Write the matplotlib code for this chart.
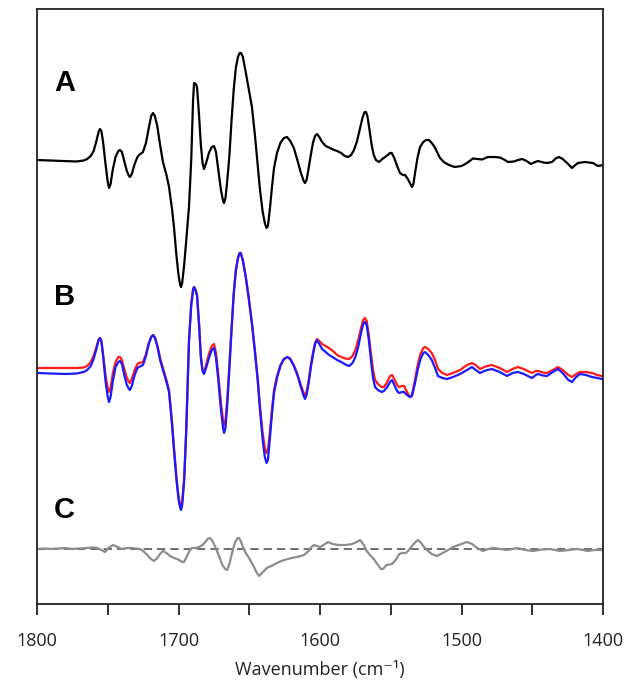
import matplotlib
matplotlib.use("Agg")
import matplotlib.pyplot as plt
from matplotlib.ticker import MultipleLocator

# ---- data (values in arbitrary absorbance-difference units) ----
wn_A = [1800, 1790, 1780, 1772, 1767, 1764.5, 1762, 1760, 1758, 1756.5, 1755.5, 1754.5, 1753.3, 1751.5,
        1750, 1749.1, 1748, 1746.5, 1744.5, 1742.5, 1741.3, 1740, 1738.5, 1736.5, 1735, 1734.3, 1733,
        1731, 1729, 1727.9, 1725.1, 1723, 1721, 1719.3, 1718, 1716.7, 1715, 1713, 1711, 1708.5, 1706.7,
        1704.5, 1703.2, 1701.5, 1700, 1698.8, 1698.2, 1697.4, 1696, 1694.5, 1692.6, 1691, 1689.7, 1689,
        1687.8, 1686.9, 1685.5, 1684.2, 1683, 1682, 1680.5, 1678.5, 1676.5, 1674.9, 1673.5, 1672, 1670,
        1668.5, 1667.8, 1666.8, 1665.5, 1664, 1662.5, 1661, 1659.5, 1658, 1656.8, 1655.8, 1654.5, 1652.5,
        1650.5, 1648.1, 1646, 1644, 1642.4, 1640.5, 1639, 1637.8, 1636.8, 1635.5, 1634, 1632.5, 1630.4,
        1628, 1625.5, 1623.3, 1621, 1618.5, 1616, 1613.5, 1611.5, 1610.6, 1609.5, 1608, 1606.5, 1605,
        1603.5, 1602.1, 1600.5, 1598.5, 1596, 1593, 1590, 1587.9, 1585, 1582.5, 1580.2, 1578, 1576, 1574,
        1572, 1570, 1568.5, 1567.5, 1566.5, 1565, 1563.5, 1562, 1560.5, 1558.3, 1556, 1553, 1550.5,
        1549.3, 1547.5, 1545.5, 1543.5, 1541.5, 1539.9, 1537.5, 1535.8, 1535, 1534, 1532.5, 1531, 1529.3,
        1527, 1525, 1523, 1521, 1519, 1517.3, 1515.2, 1512.5, 1510.2, 1507, 1504.6, 1500, 1496.1, 1491.9,
        1489, 1485.5, 1481.3, 1477, 1472.8, 1470, 1467.1, 1463, 1460, 1457.2, 1454, 1450.9, 1448, 1445.9,
        1442, 1439.6, 1436, 1433.5, 1431.1, 1428.5, 1425.4, 1421.9, 1419.5, 1417.7, 1412.7, 1407.1,
        1403.5, 1400]
val_A = [0, -0.5, -1, -1.5, -0.5, 1, 4, 9, 19, 28, 31, 29, 18, -5,
         -22, -28, -24, -10, 3, 9, 10, 8, 0, -11, -16, -17, -14,
         -4, 3, 5, 8, 17, 32, 44, 47, 44, 34, 15, -2, -15, -27,
         -50, -67, -95, -115, -125, -127, -123, -105, -80, -47, 0, 60, 77,
         76, 73, 45, 15, -3, -9, -3, 7, 13, 14, 8, -8, -30,
         -41, -43, -38, -20, 5, 40, 70, 92, 103, 107, 107, 103, 88,
         72, 53, 25, -5, -30, -52, -63, -68, -66, -50, -28, -8, 7,
         17, 22, 23, 19, 12, 0, -13, -21, -23, -20, -8, 5, 17,
         24, 26, 23, 18, 14, 12, 10, 9, 7, 4, 3, 5, 10, 18,
         30, 42, 48, 48, 44, 30, 15, 5, 0, -2, 1, 4, 7,
         7, 2, -6, -13, -15, -15, -20, -25, -27, -24, -10, 3, 13,
         18, 20, 20, 17, 13, 8, 2, -2, -4, -6, -7, -6, -3, 1.5,
         1, 0.5, 3, 3, 2.5, 0.5, -2, -1.5, 0, 1, -1, -4, -2, -1,
         -2.5, -3, -2, 1.5, 3, 1, -3, -8, -5, -3, -2, -3,
         -6, -5]

wn_B = [1800, 1790, 1780, 1772, 1767, 1764.5, 1762, 1760, 1758, 1756.5, 1755.5, 1754.5, 1753.3, 1751.5,
        1750, 1749.1, 1748, 1746.5, 1744.5, 1742.5, 1741.3, 1740, 1738.5, 1736.5, 1735, 1734.3, 1733,
        1731, 1729, 1727.9, 1725.1, 1723, 1721, 1719.3, 1718, 1716.7, 1715, 1713, 1711, 1708.5, 1706.7,
        1704.5, 1703.2, 1701.5, 1700, 1698.8, 1698.2, 1697.4, 1696, 1694.5, 1692.6, 1691, 1689.7, 1689,
        1687.8, 1686.9, 1685.5, 1684.2, 1683, 1682, 1680.5, 1678.5, 1676.5, 1674.9, 1673.5, 1672, 1670,
        1668.5, 1667.8, 1666.8, 1665.5, 1664, 1662.5, 1661, 1659.5, 1658, 1656.8, 1656, 1654.5, 1652.5,
        1650.5, 1648.1, 1646, 1644, 1642.4, 1640.5, 1639, 1637.8, 1636.8, 1635.5, 1634, 1632.5, 1630.4,
        1628, 1625.5, 1623, 1621, 1618.5, 1616, 1613.5, 1611.5, 1610.6, 1609.5, 1608, 1606.5, 1605,
        1603.5, 1602.1, 1600.5, 1598.5, 1596, 1593.6, 1590, 1587.9, 1585, 1582, 1579.4, 1577, 1575, 1573,
        1571, 1569.5, 1568.2, 1567, 1565.5, 1564, 1562.5, 1561.1, 1559, 1556.5, 1554.8, 1552.5, 1550.5,
        1549.1, 1547.5, 1545.5, 1544.2, 1542, 1540.6, 1538.5, 1536.4, 1535, 1533, 1531, 1529, 1527,
        1525.8, 1523.5, 1521, 1518.7, 1516.6, 1513.5, 1510.2, 1506, 1501, 1496.1, 1492.6, 1490, 1487,
        1483, 1478.5, 1473, 1467.8, 1464, 1460.1, 1456, 1450.2, 1447.5, 1445.9, 1442.5, 1439.6, 1435.5,
        1431.8, 1428.5, 1424.5, 1421.9, 1419, 1416.3, 1412, 1407.8, 1404, 1400.7]
val_B_red = [0, 0, 0, 0, 0.5, 2, 6, 12, 21, 28, 30, 27, 14, -8,
             -20, -24, -20, -6, 6, 11, 11, 8, 0, -10, -14, -15, -11,
             -2, 4, 5, 6, 14, 25, 31, 33, 31, 23, 10, 0, -12, -22,
             -55, -79, -108, -128, -137, -139, -134, -110, -60, 28, 65, 79, 81,
             78, 73, 45, 12, -2, -5, 3, 14, 22, 24, 15, -5, -35,
             -52, -57, -52, -30, 5, 40, 75, 98, 110, 115, 115, 108, 92,
             72, 45, 18, -10, -38, -65, -80, -85, -82, -65, -42, -22, -8,
             3, 9, 11, 9, 3, -6, -17, -25, -27, -24, -12, 3, 15,
             25, 29, 27, 24, 22, 20, 16, 13, 11, 9.5, 9, 12, 18, 28,
             40, 48, 50, 47, 33, 15, -2, -12, -16, -19, -19, -14, -8,
             -7, -11, -17, -19, -18, -18, -24, -29, -27, -13, 3, 14, 20,
             21, 19, 15, 8, -1, -5, -7, -5, -2, 3, 5, 3, -1,
             1.5, 3, 0, -4, -1, 1, -1, -5, -3, -3, -4.5, -5, -2,
             1, -2, -7, -9, -6, -4, -4, -5, -7, -8]
val_B_blue = [-5, -5.5, -6, -5.5, -4, -2, 2, 9, 19, 28, 30, 27, 12, -14,
              -29, -34, -29, -14, 1, 6, 7, 4, -6, -17, -21, -22, -18,
              -7, 0, 1, 3, 12, 24, 31, 33, 30, 22, 8, -2, -14, -24,
              -58, -82, -111, -131, -140, -142, -137, -113, -62, 26, 62, 78, 81,
              77, 72, 44, 10, -3, -6, 0, 10, 18, 20, 10, -10, -42,
              -60, -65, -60, -36, 0, 38, 73, 97, 110, 115, 115, 107, 91,
              71, 44, 16, -13, -42, -72, -89, -95, -92, -72, -47, -25, -10,
              2, 9, 11, 9, 2, -7, -19, -28, -31, -27, -15, 0, 13,
              24, 28, 24, 19, 16, 13, 10, 8, 6, 3.5, 2, 5, 11, 21,
              35, 44, 46, 43, 28, 8, -10, -19, -22, -24, -23, -19, -14,
              -12, -17, -23, -25, -24, -24, -27, -29, -28, -16, -2, 9, 15,
              16, 13, 8, 0, -8, -10, -11, -9, -6, -2, 1, -2, -5,
              -2.5, -1, -4, -8, -5, -4, -6, -10, -7, -6, -7.5, -8, -4,
              -1, -5, -12, -14, -9, -6, -7, -9, -10, -11]

wn_C = [1800, 1795, 1790, 1785, 1780, 1775, 1770, 1764.7, 1760, 1757.6, 1754.5, 1752, 1749.5, 1746.3,
        1743, 1740, 1736, 1732.9, 1730, 1727.2, 1725, 1722, 1719.5, 1717.3, 1715, 1712.5, 1710.9, 1708.5,
        1706, 1703, 1699.5, 1697.5, 1696.1, 1694, 1692, 1690.5, 1687.5, 1685.5, 1683, 1681, 1679.5,
        1677.7, 1676, 1674, 1671.4, 1669, 1667, 1665.7, 1664, 1662, 1660, 1658.2, 1657.2, 1656, 1654,
        1652, 1650.2, 1647, 1645, 1643.1, 1641, 1639, 1637.5, 1633, 1629, 1625.4, 1620, 1615, 1611.3,
        1608, 1606, 1604.2, 1602, 1600, 1597.5, 1594.3, 1591, 1587.3, 1582, 1577.4, 1574, 1571.7, 1569,
        1567, 1564.7, 1562, 1559, 1557, 1555.5, 1553, 1549.1, 1546, 1544, 1542, 1539.5, 1537.8, 1535,
        1532.5, 1530.7, 1528.5, 1526.5, 1524.4, 1521, 1517.3, 1514, 1510, 1506, 1501, 1496.1, 1492.5,
        1489, 1484.8, 1481, 1477.7, 1473, 1467.8, 1464, 1460.8, 1455, 1449.5, 1443, 1437.4, 1434, 1430.4,
        1424, 1418.4, 1414, 1411.3, 1406, 1400]
val_C = [0, 0.5, 0, 0.5, 1, 0, 0.5, 1, 1.5, 1, -1, -3, 1, 4,
         2, 0, 1, 1, 0.5, 0, -2, -6, -10, -12, -9, -4, -2, -4,
         -7, -9, -11, -13, -13, -7, -1, 1, 1, 2, 4, 7, 10,
         11, 8, 2, -7, -16, -20, -21, -15, -3, 7, 11, 11, 8, 0,
         -5, -9, -17, -23, -27, -24, -21, -19, -16, -13, -11, -9, -7.5, -6,
         -2, 2, 4, 3, 2, 4, 7, 5, 4, 4, 5, 7, 9, 4,
         -2, -6, -10, -16, -20, -20, -16, -15, -10, -5, -4, -4, -2, 3,
         7, 9, 6, 2, -1, -5, -7, -4.5, -1.5, 2, 4.5, 7, 5,
         1, -2, 0, 1, 0, -1, 0, 1, -1, -2, -0.5, 0, -1, -2,
         -1, 0, -1, -2, -1, -1]

labels = ["A", "B", "C"]
x_ticks = [1800, 1700, 1600, 1500, 1400]

# ---- figure ----
fig = plt.figure(figsize=(6.35, 6.82), dpi=100)
ax = fig.add_axes([37/635, 78/682, 566/635, 595/682])

off_A, off_B, off_C = 444, 236, 55
lw = 1.6
ax.plot(wn_A, [v + off_A for v in val_A], color="black", lw=lw, solid_joinstyle="round")
ax.plot(wn_B, [v + off_B for v in val_B_red], color="#ff1a1a", lw=lw, solid_joinstyle="round")
ax.plot(wn_B, [v + off_B for v in val_B_blue], color="#1a1aff", lw=lw, solid_joinstyle="round")
ax.axhline(off_C, color="#555555", lw=1.2, dashes=(5, 3))
ax.plot(wn_C, [v + off_C for v in val_C], color="#8c8c8c", lw=lw, solid_joinstyle="round")

for lab, yy in zip(labels, [off_A + 69, off_B + 63, off_C + 31]):
    ax.text(1788, yy, lab, fontsize=21, fontweight="bold", family="Liberation Sans",
            ha="left", va="baseline")

ax.set_xlim(1800, 1400)
ax.set_ylim(0, 595)
ax.set_yticks([])
ax.set_xticks(x_ticks)
ax.set_xticklabels([str(t) for t in x_ticks], family=["Open Sans", "DejaVu Sans"], fontsize=13,
                   color="#222222")
ax.xaxis.set_minor_locator(MultipleLocator(50))
ax.tick_params(axis="x", which="both", direction="out", length=8, width=1.3, color="#222222", pad=12)
for s in ax.spines.values():
    s.set_linewidth(1.3)
    s.set_color("#222222")
ax.set_xlabel("Wavenumber (cm\u207b\u00b9)", family=["Open Sans", "DejaVu Sans"], fontsize=13,
              color="#222222", labelpad=8)

fig.savefig("out.png", dpi=100)
